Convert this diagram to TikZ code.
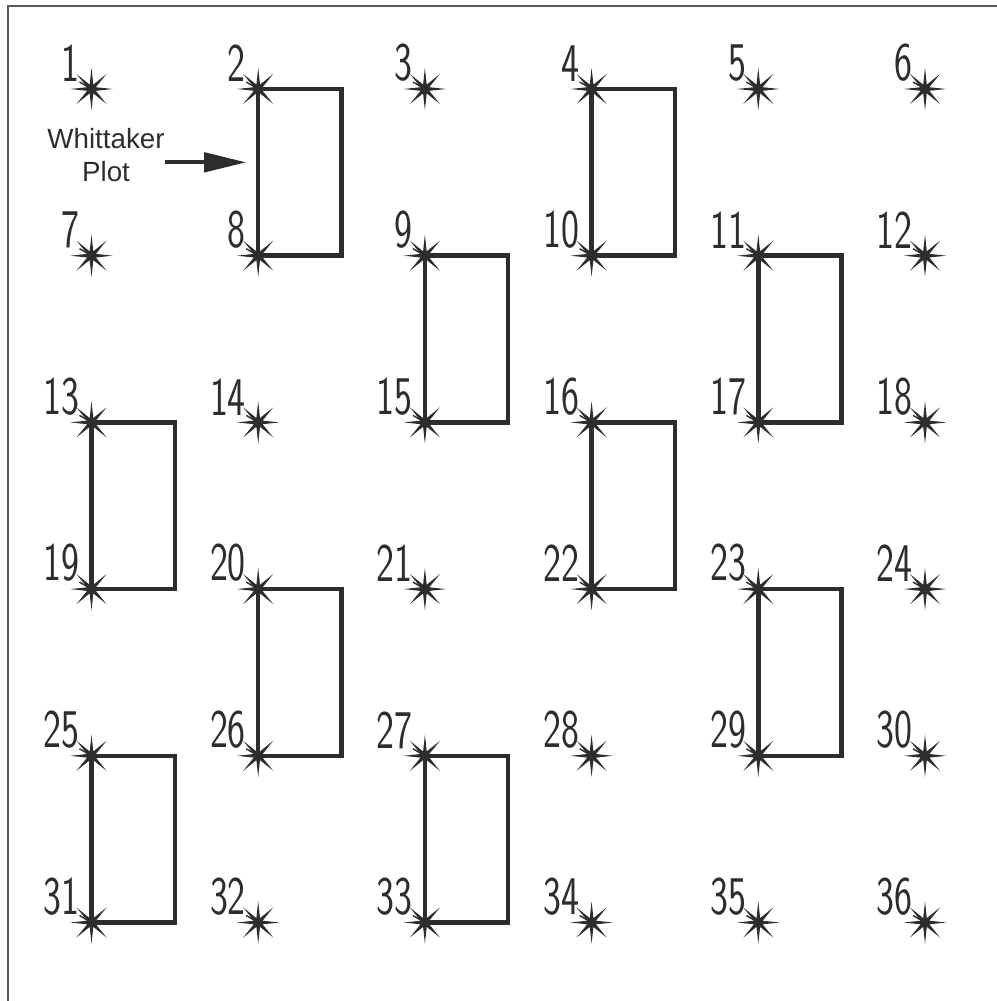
\documentclass[tikz,border=0pt]{standalone}
\usepackage{fontspec}
\usepackage{graphicx}
\setmainfont{Liberation Sans}
\usetikzlibrary{shapes.geometric, arrows.meta, calc}
\definecolor{ink}{RGB}{45,45,45}
\tikzset{
  starpt/.style={star, star points=8, star point ratio=4.5, minimum size=0.85cm, inner sep=0pt, fill=ink},
  ptlabel/.style={anchor=south east, inner sep=0pt, text=ink, font=\sffamily\fontsize{31}{31}\selectfont},
  leader/.style={ink, line width=0.8pt},
  plotbox/.style={ink, line width=2.6pt, line join=miter},
}

\begin{document}
\begin{tikzpicture}[x=0.02cm, y=-0.02cm]
    \useasboundingbox (0,0) rectangle (997,1001);
    % frame
    \draw[gray!70!black, line width=1pt] (8,1001) -- (8,6) -- (997,6);
    % points
    \foreach \r in {0,...,5}{
        \foreach \c in {0,...,5}{
            \pgfmathtruncatemacro{\n}{6*\r+\c+1}
            \node[starpt] (p\n) at (91.5+166.7*\c, 89+166.7*\r) {};
            \node[ptlabel] (l\n) at ($(p\n)+(-12,-7)$) {\scalebox{0.7}[1]{\n}};
            \draw[leader] (l\n.south east) -- (p\n.center);
        }
    }
    % plots
    \foreach \a/\b in {2/8,4/10,9/15,11/17,13/19,16/22,20/26,23/29,25/31,27/33}
        \draw[plotbox] (p\a.center) -- ++(83.3,0) |- (p\b.center) -- cycle;
    %label
    \node[align=center, text=ink, font=\fontsize{15.8}{18.8}\selectfont, inner sep=0pt] (wplot) at (106,155) {Whittaker\\Plot};
    \coordinate (wtip) at ($(p2)!0.44!(p8)+(-12,0)$);
    \draw[ink, line width=2.3pt, -{Triangle[length=24pt, width=11pt]}] (wplot.east |- wtip) -- (wtip);
\end{tikzpicture}
\end{document}
